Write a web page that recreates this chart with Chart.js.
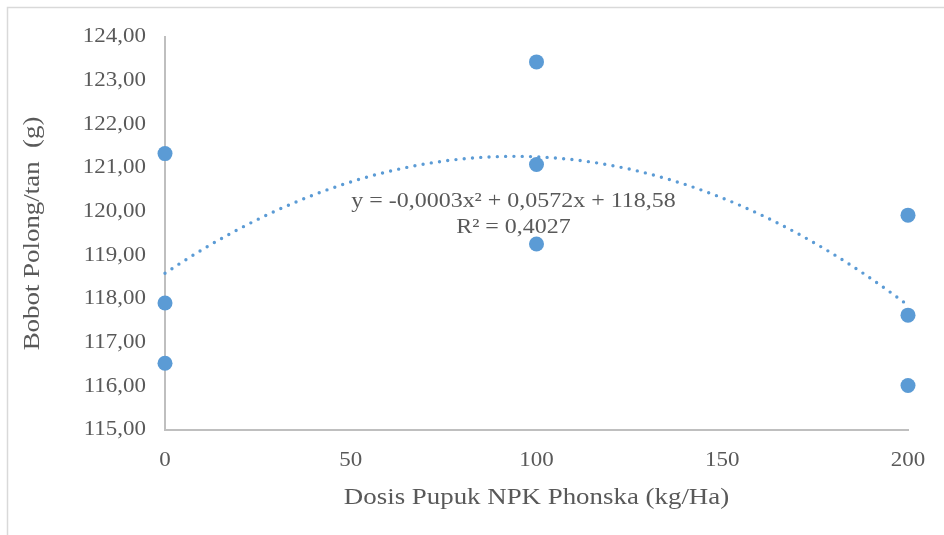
<!DOCTYPE html>
<html>
<head>
<meta charset="utf-8">
<script src="https://cdn.jsdelivr.net/npm/chart.js@4.4.1/dist/chart.umd.min.js"></script>
<style>
  html, body { margin: 0; padding: 0; background: #ffffff; }
  #wrap { position: relative; width: 944px; height: 535px; }
</style>
</head>
<body>
<div id="wrap"><canvas id="c" width="944" height="535"></canvas></div>
<script>
// Dose of NPK Phonska fertiliser (kg/Ha) for each observation
const doses = [0, 0, 0, 100, 100, 100, 200, 200, 200];
// Pod weight per plant (g)
const podWeights = [121.33, 117.91, 116.53, 123.43, 121.08, 119.26, 119.92, 117.63, 116.02];
// Axis ticks
const xTicks = [0, 50, 100, 150, 200];
const yTicks = [115, 116, 117, 118, 119, 120, 121, 122, 123, 124];
// Trendline equation as printed
const equationLines = ['y = -0,0003x\u00B2 + 0,0572x + 118,58', 'R\u00B2 = 0,4027'];

const TEXT = '#595959';
const AXIS = '#BFBFBF';
const BLUE = '#5B9BD5';
const FONT = '"Liberation Serif", "Times New Roman", serif';
const TEXT_STRETCH = 1.12; // text is set slightly wide along its baseline

// Least-squares quadratic fit of the observations (polynomial trendline, order 2)
function quadFit(xs, ys) {
  const S = [0, 0, 0, 0, 0], T = [0, 0, 0];
  for (let i = 0; i < xs.length; i++) {
    let p = 1;
    for (let k = 0; k < 5; k++) { S[k] += p; if (k < 3) T[k] += p * ys[i]; p *= xs[i]; }
  }
  const M = [[S[0], S[1], S[2], T[0]], [S[1], S[2], S[3], T[1]], [S[2], S[3], S[4], T[2]]];
  for (let i = 0; i < 3; i++) {
    let piv = i;
    for (let r = i + 1; r < 3; r++) if (Math.abs(M[r][i]) > Math.abs(M[piv][i])) piv = r;
    [M[i], M[piv]] = [M[piv], M[i]];
    for (let r = 0; r < 3; r++) {
      if (r === i) continue;
      const f = M[r][i] / M[i][i];
      for (let c = i; c < 4; c++) M[r][c] -= f * M[i][c];
    }
  }
  return [M[0][3] / M[0][0], M[1][3] / M[1][1], M[2][3] / M[2][2]];
}
const [tc, tb, ta] = quadFit(doses, podWeights);
const trendPoints = [];
for (let x = 0; x <= 200; x += 4) trendPoints.push({ x: x, y: ta * x * x + tb * x + tc });

const scatterPoints = doses.map((d, i) => ({ x: d, y: podWeights[i] }));

// Widen every text run around its anchor point
const canvas = document.getElementById('c');
const ctx2d = canvas.getContext('2d');
const baseFillText = ctx2d.fillText.bind(ctx2d);
ctx2d.fillText = function (text, x, y) {
  this.save();
  this.translate(x, y);
  this.scale(TEXT_STRETCH, 1);
  baseFillText(text, 0, 0);
  this.restore();
};

// Outer frame lines and the trendline equation label
const decor = {
  id: 'decor',
  beforeDraw(chart) {
    const ctx = chart.ctx;
    ctx.save();
    ctx.fillStyle = '#ffffff';
    ctx.fillRect(0, 0, chart.width, chart.height);
    ctx.strokeStyle = '#D9D9D9';
    ctx.lineWidth = 1.5;
    ctx.beginPath();
    ctx.moveTo(7.5, chart.height);
    ctx.lineTo(7.5, 7.5);
    ctx.lineTo(chart.width, 7.5);
    ctx.stroke();
    ctx.restore();
  },
  afterDatasetsDraw(chart) {
    const ctx = chart.ctx;
    const a = chart.chartArea;
    ctx.save();
    ctx.fillStyle = TEXT;
    ctx.font = '21.4px ' + FONT;
    ctx.textAlign = 'center';
    ctx.textBaseline = 'middle';
    const cx = a.left + (a.right - a.left) * 0.469;
    ctx.fillText(equationLines[0], cx, a.top + 164);
    ctx.fillText(equationLines[1], cx, a.top + 190);
    ctx.restore();
  }
};

new Chart(canvas, {
  type: 'scatter',
  data: {
    datasets: [
      {
        type: 'line',
        label: 'Trend',
        data: trendPoints,
        borderColor: BLUE,
        borderWidth: 3.4,
        borderCapStyle: 'round',
        borderDash: [0, 8.3],
        pointRadius: 0,
        fill: false,
        tension: 0,
        clip: false,
        order: 0
      },
      {
        label: 'Bobot Polong/tan',
        data: scatterPoints,
        backgroundColor: BLUE,
        borderColor: BLUE,
        borderWidth: 0,
        pointRadius: 7.5,
        pointHoverRadius: 7.5,
        clip: false,
        order: 1
      }
    ]
  },
  options: {
    responsive: false,
    animation: false,
    events: [],
    layout: { padding: { left: 0, top: 37, right: 36, bottom: 0 } },
    plugins: { legend: { display: false }, tooltip: { enabled: false } },
    scales: {
      x: {
        type: 'linear',
        min: 0, max: 200,
        afterBuildTicks(s) { s.ticks = xTicks.map(v => ({ value: v })); },
        afterFit(s) { s.height = 105; },
        grid: { display: false, drawTicks: false },
        border: { display: true, color: AXIS, width: 2 },
        ticks: { color: TEXT, font: { family: FONT, size: 20.5 }, padding: 18, maxRotation: 0, autoSkip: false },
        title: { display: true, text: 'Dosis Pupuk NPK Phonska (kg/Ha)', color: TEXT,
                 font: { family: FONT, size: 24 }, padding: { top: 0, bottom: 23 } }
      },
      y: {
        type: 'linear',
        min: 115, max: 124,
        afterBuildTicks(s) { s.ticks = yTicks.map(v => ({ value: v })); },
        afterFit(s) { s.width = 165; },
        grid: { display: false, drawTicks: false },
        border: { display: true, color: AXIS, width: 2 },
        ticks: { color: TEXT, font: { family: FONT, size: 20.5 }, padding: 19, autoSkip: false,
                 callback: v => v.toFixed(2).replace('.', ',') },
        title: { display: true, text: 'Bobot Polong/tan  (g)', color: TEXT,
                 font: { family: FONT, size: 24 }, padding: { top: 18, bottom: 0 } }
      }
    }
  },
  plugins: [decor]
});
</script>
</body>
</html>
